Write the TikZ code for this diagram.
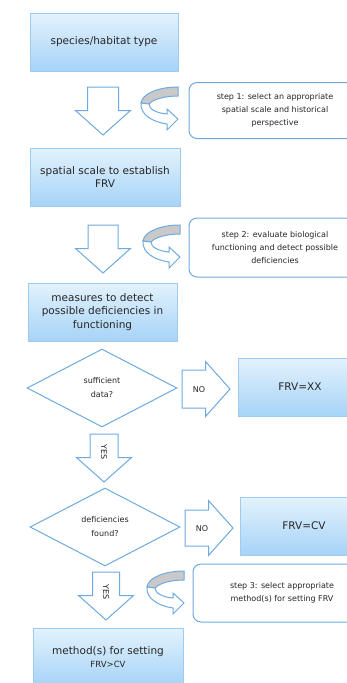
\documentclass[tikz,border=0pt]{standalone}
\usepackage{fontspec}
\setmainfont{DejaVu Sans}
\usetikzlibrary{shapes.geometric, shadows, positioning}

\definecolor{boxtop}{HTML}{E3F2FD}
\definecolor{boxbot}{HTML}{A6D3F7}
\definecolor{boxline}{HTML}{9FCBEE}
\definecolor{arrline}{HTML}{6EAAE0}
\definecolor{txtgray}{HTML}{262626}
\definecolor{ribbon}{HTML}{C9C9C9}

\tikzset{
    bluebox/.style={rectangle, draw=boxline, top color=boxtop, bottom color=boxbot,
        minimum width=150pt, minimum height=58pt, align=center, text=txtgray,
        font=\fontsize{10.5}{13.5}\selectfont,
        drop shadow={shadow xshift=0.8pt, shadow yshift=-1.2pt, opacity=0.25}},
    stepbox/.style={rectangle, rounded corners=8pt, draw=arrline, line width=1pt, fill=white,
        minimum width=172pt, minimum height=56pt, align=center, text=txtgray,
        font=\fontsize{8}{13}\selectfont},
    choice/.style={diamond, draw=arrline, line width=1pt, fill=white, aspect=1.92,
        minimum width=150pt, minimum height=78pt, inner sep=0pt, align=center, text=txtgray,
        font=\fontsize{8}{14}\selectfont},
    lbl/.style={font=\fontsize{8}{9}\selectfont, text=txtgray},
    blkline/.style={draw=arrline, line width=1pt, fill=white, line join=miter},
    pics/blockarrow/.style={code={
        \path[blkline] (-#1,0) -- (#1,0) -- (#1,23.5) -- (27.5,23.5) -- (0,48)
            -- (-27.5,23.5) -- (-#1,23.5) -- cycle;
    }},
    pics/uturn/.style={code={
        \path[blkline, fill=ribbon] (0,0) .. controls (-20,0) and (-36,7) .. (-37,16)
            -- (-29,17) .. controls (-25,12) and (-12,9) .. (0,9) -- cycle;
        \path[blkline] (-37,16) .. controls (-38,28) and (-25,35) .. (-11,37) -- (-11,43)
            -- (0,32) -- (-11,22) -- (-11,27) .. controls (-22,26) and (-29,22) .. (-29,17) -- cycle;
    }}
}

\begin{document}
\begin{tikzpicture}[x=1pt, y=-1pt]
    \useasboundingbox (0,0) rectangle (347,683);

    % main column
    \node[bluebox, minimum width=148pt] (species) at (104,42) {species/habitat type};
    \node[bluebox] (scale) at (105,177) {spatial scale to establish\\FRV};
    \node[bluebox, minimum width=149pt] (measures) at (102.5,312) {measures to detect\\possible deficiencies in\\functioning};
    \node[choice] (data) at (102,388) {sufficient\\data?};
    \node[choice] (found) at (105,527) {deficiencies\\found?};
    \node[bluebox] (method) at (108,657) {method(s) for setting\\{\fontsize{8.5}{10}\selectfont FRV>CV}};

    % outcomes
    \node[bluebox, minimum width=124pt] (xx) at (300,387) {FRV=XX};
    \node[bluebox, minimum width=128pt] (cv) at (304,526) {FRV=CV};

    % steps
    \node[stepbox] (step1) at (275,110.5) {step 1: select an appropriate\\spatial scale and historical\\perspective};
    \node[stepbox, minimum height=59pt] (step2) at (275,247.5) {step 2: evaluate biological\\functioning and detect possible\\deficiencies};
    \node[stepbox, minimum height=58pt, minimum width=178pt] (step3) at (282,593) {step 3: select appropriate\\method(s) for setting FRV};

    % block arrows
    \pic at (103,87) {blockarrow=15.5};
    \pic at (103,225) {blockarrow=15};
    \pic at (104,434) {blockarrow=14};
    \pic at (106,572) {blockarrow=13.5};
    \pic[rotate=90] at (182,389) {blockarrow=19};
    \pic[rotate=90] at (185,528) {blockarrow=18};

    \pic at (178,87) {uturn};
    \pic at (180,225) {uturn};
    \pic at (184,571) {uturn};

    % labels
    \node[lbl] (no1) at (199,390) {NO};
    \node[lbl] (no2) at (202,529) {NO};
    \node[lbl, rotate=-90] (yes1) at (104,452) {YES};
    \node[lbl, rotate=-90] (yes2) at (106,592) {YES};
\end{tikzpicture}
\end{document}
